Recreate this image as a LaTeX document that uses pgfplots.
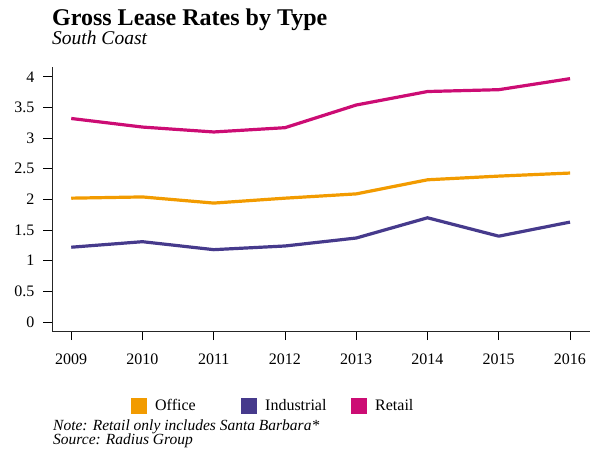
\documentclass[border=0pt]{standalone}
\usepackage{fontspec}
\setmainfont{Liberation Serif}
\usepackage{pgfplots}
\pgfplotsset{compat=1.18}
\definecolor{office}{HTML}{F29B00}
\definecolor{industrial}{HTML}{463A8C}
\definecolor{retail}{HTML}{CC0C74}
\begin{document}
\begin{tikzpicture}[x=1pt,y=1pt]
\useasboundingbox (0,0) rectangle (600,448);
\node[anchor=base west,inner sep=0pt,font=\fontsize{24}{26}\selectfont\bfseries] at (52,422) {Gross Lease Rates by Type};
\node[anchor=base west,inner sep=0pt,font=\fontsize{19.5}{21}\selectfont\itshape] at (52,403) {South Coast};
\begin{axis}[
  at={(52pt,117pt)}, anchor=south west,
  scale only axis, width=538pt, height=264pt,
  xmin=2008.73, xmax=2016.28, ymin=-0.147, ymax=4.16,
  axis lines=left, axis line style={black!85, line width=0.9pt, -},
  xtick={2009,...,2016}, ytick={0,0.5,...,4},
  yticklabels={0,0.5,1,1.5,2,2.5,3,3.5,4},
  tick align=outside, major tick length=9pt,
  tick style={black, line width=0.9pt},
  /pgf/number format/assume math mode=true,
  xticklabel style={/pgf/number format/1000 sep={}, font=\fontsize{16}{17}\selectfont, yshift=-10pt},
  yticklabel style={font=\fontsize{16}{17}\selectfont, xshift=-5pt},
  legend columns=3,
  legend style={at={(0.1468,-0.284)}, anchor=west, draw=none, fill=none, inner sep=0pt,
    font=\fontsize{16}{17}\selectfont, column sep=0pt,
    /tikz/every odd column/.append style={column sep=6pt},
    nodes={text width=84pt, align=left, inner sep=2pt}},
  legend image code/.code={\path[fill, draw=none] (0pt,-8pt) rectangle (16pt,8pt);},
  line join=round,
]
\addplot[color=office, line width=3.2pt] coordinates {(2009,2.02) (2010,2.04) (2011,1.94) (2012,2.02) (2013,2.09) (2014,2.32) (2015,2.38) (2016,2.43)};
\addlegendentry{Office}
\addplot[color=industrial, line width=3.2pt] coordinates {(2009,1.22) (2010,1.31) (2011,1.18) (2012,1.24) (2013,1.37) (2014,1.70) (2015,1.40) (2016,1.63)};
\addlegendentry{Industrial}
\addplot[color=retail, line width=3.2pt] coordinates {(2009,3.32) (2010,3.18) (2011,3.10) (2012,3.17) (2013,3.54) (2014,3.76) (2015,3.79) (2016,3.97)};
\addlegendentry{Retail}
\end{axis}
\node[anchor=base west,inner sep=0pt,font=\fontsize{15.5}{16}\selectfont\itshape] at (53,17.5) {Note: Retail only includes Santa Barbara*};
\node[anchor=base west,inner sep=0pt,font=\fontsize{15.5}{16}\selectfont\itshape] at (53,3.5) {Source: Radius Group};
\end{tikzpicture}
\end{document}
